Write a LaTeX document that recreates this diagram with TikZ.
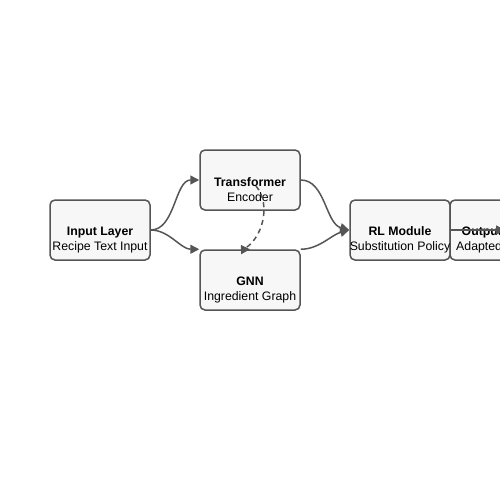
\documentclass[tikz,border=0pt]{standalone}
\usepackage{fontspec}
\setmainfont{Liberation Sans}
\usepackage{xcolor}
\usetikzlibrary{arrows.meta}
\definecolor{boxfill}{HTML}{F7F7F7}
\definecolor{edgegray}{HTML}{555555}

\begin{document}
\begin{tikzpicture}[x=1pt,y=-1pt,
    box/.style={draw=edgegray,fill=boxfill,line width=1.5pt,rounded corners=5pt,
      minimum width=100pt,minimum height=60pt,inner sep=0pt},
    lbl/.style={align=center,font=\fontsize{12.3pt}{15pt}\selectfont,inner sep=0pt},
    link/.style={draw=edgegray,line width=1.5pt,-{Triangle[length=9pt,width=9pt]}}]
    \useasboundingbox (0,0) rectangle (500,500);
    \clip (0,0) rectangle (500,500);
    %
    \node[box] (input) at (100,230) {};
    \node[box] (trans) at (250,180) {};
    \node[box] (gnn) at (250,280) {};
    \node[box] (rl) at (400,230) {};
    \node[box] (output) at (500,230) {};
    %
    \node[lbl] (inputtxt) at ([yshift=-10pt]input.center) {\textbf{Input Layer}\\Recipe Text Input};
    \node[lbl] (transtxt) at ([yshift=-10pt]trans.center) {\textbf{Transformer}\\Encoder};
    \node[lbl] (gnntxt) at ([yshift=-10pt]gnn.center) {\textbf{GNN}\\Ingredient Graph};
    \node[lbl] (rltxt) at ([yshift=-10pt]rl.center) {\textbf{RL Module}\\Substitution Policy};
    \node[lbl] (outputtxt) at ([yshift=-10pt]output.center) {\textbf{Output Layer}\\Adapted Recipe};
    %
    \coordinate (dashstart) at (256,186);
    \coordinate (dashbend) at (243,249.5);
    \coordinate (outend) at (505,230);
    %
    \draw[link] (input.east) to[out=0,in=180,looseness=0.9] (trans.west);
    \draw[link] (input.east) to[out=0,in=180,looseness=0.9] (gnn.north west);
    \draw[link] (trans.east) to[out=0,in=165,looseness=0.9] (rl.west);
    \draw[link] (gnn.north east) to[out=0,in=195,looseness=0.9] (rl.west);
    \draw[link] (rl.east) -- (outend);
    \draw[link,dash pattern=on 5pt off 4pt] (dashstart) .. controls (272,205) and (262,240) .. (dashbend) -- (gnn.north);
  \end{tikzpicture}
\end{document}
